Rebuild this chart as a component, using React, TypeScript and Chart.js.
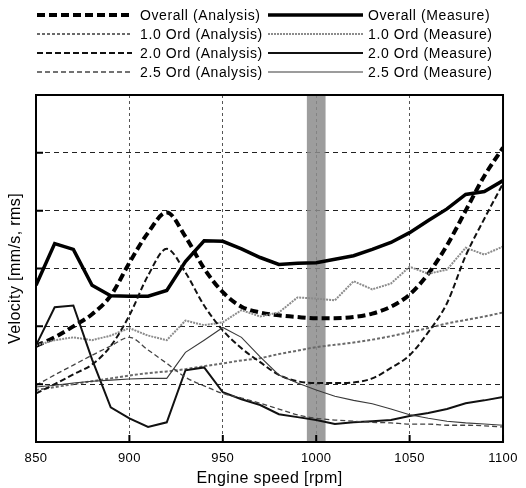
import React, { useEffect, useRef } from "react";
import { Chart, registerables } from "chart.js";

Chart.register(...registerables);

const rpm = [850, 860, 870, 880, 890, 900, 910, 920, 930, 940, 950, 960, 970, 980, 990, 1000, 1010, 1020, 1030, 1040, 1050, 1060, 1070, 1080, 1090, 1100];

const overallAnalysis = [1.66, 1.81, 2.0, 2.21, 2.53, 3.1, 3.62, 3.97, 3.55, 3.0, 2.59, 2.34, 2.24, 2.19, 2.16, 2.14, 2.14, 2.16, 2.22, 2.34, 2.55, 2.91, 3.4, 4.0, 4.6, 5.09];
const overallMeasure = [2.71, 3.43, 3.33, 2.71, 2.53, 2.52, 2.52, 2.62, 3.12, 3.48, 3.47, 3.34, 3.19, 3.07, 3.09, 3.1, 3.16, 3.22, 3.33, 3.45, 3.62, 3.83, 4.03, 4.28, 4.33, 4.52];
const ord10Analysis = [0.9, 0.95, 1.0, 1.05, 1.1, 1.15, 1.19, 1.22, 1.26, 1.31, 1.36, 1.41, 1.45, 1.52, 1.58, 1.64, 1.68, 1.72, 1.77, 1.83, 1.9, 1.97, 2.05, 2.11, 2.17, 2.24];
const ord10Measure = [1.67, 1.76, 1.81, 1.76, 1.84, 1.97, 1.84, 1.76, 2.1, 2.02, 2.07, 2.28, 2.17, 2.24, 2.5, 2.48, 2.45, 2.78, 2.64, 2.74, 3.03, 2.91, 2.98, 3.36, 3.24, 3.38];
const ord20Analysis = [0.84, 1.0, 1.17, 1.34, 1.66, 2.19, 2.88, 3.34, 2.93, 2.36, 1.93, 1.62, 1.38, 1.16, 1.05, 1.02, 1.02, 1.03, 1.1, 1.28, 1.5, 1.9, 2.4, 3.22, 3.86, 4.47];
const ord20Measure = [1.67, 2.33, 2.36, 1.43, 0.6, 0.41, 0.26, 0.34, 1.24, 1.29, 0.86, 0.74, 0.64, 0.48, 0.43, 0.38, 0.31, 0.34, 0.36, 0.38, 0.45, 0.5, 0.57, 0.67, 0.72, 0.78];
const ord25Analysis = [0.98, 1.16, 1.33, 1.5, 1.66, 1.81, 1.59, 1.36, 1.12, 0.97, 0.84, 0.76, 0.67, 0.57, 0.47, 0.41, 0.38, 0.36, 0.34, 0.33, 0.31, 0.31, 0.29, 0.29, 0.28, 0.26];
const ord25Measure = [0.95, 0.98, 1.02, 1.05, 1.07, 1.09, 1.1, 1.1, 1.55, 1.76, 1.98, 1.81, 1.47, 1.16, 1.02, 0.9, 0.79, 0.72, 0.66, 0.57, 0.47, 0.41, 0.36, 0.33, 0.31, 0.29];

const seriesNames = [
  "Overall (Analysis)", "Overall (Measure)",
  "1.0 Ord (Analysis)", "1.0 Ord (Measure)",
  "2.0 Ord (Analysis)", "2.0 Ord (Measure)",
  "2.5 Ord (Analysis)", "2.5 Ord (Measure)",
];

const bandRange = [995, 1005];
const xTicks = [850, 900, 950, 1000, 1050, 1100];
const yMin = 0;
const yMax = 6;

const FONT = "Arial, 'Liberation Sans', Helvetica, sans-serif";

const styles = [
  { color: "#000", width: 4, dash: [8, 4], smooth: true },
  { color: "#000", width: 3.5, dash: [], smooth: false },
  { color: "#6a6a6a", width: 2, dash: [3, 2], smooth: true },
  { color: "#8c8c8c", width: 2, dash: [2, 1], smooth: false },
  { color: "#111", width: 2, dash: [6, 3], smooth: true },
  { color: "#111", width: 2, dash: [], smooth: false },
  { color: "#444", width: 1.3, dash: [5, 3], smooth: true },
  { color: "#3a3a3a", width: 1.1, dash: [], smooth: false },
];

const allValues = [overallAnalysis, overallMeasure, ord10Analysis, ord10Measure, ord20Analysis, ord20Measure, ord25Analysis, ord25Measure];

const spacingPlugin = {
  id: "spacing",
  beforeDraw(chart: any) {
    try {
      (chart.ctx as any).letterSpacing = "0.4px";
    } catch (e) {}
  },
};

const bandPlugin = {
  id: "band",
  beforeDatasetsDraw(chart: any) {
    const { ctx, chartArea, scales } = chart;
    const x0 = scales.x.getPixelForValue(bandRange[0]);
    const x1 = scales.x.getPixelForValue(bandRange[1]);
    ctx.save();
    ctx.fillStyle = "rgba(140,140,140,0.85)";
    ctx.fillRect(x0, chartArea.top, x1 - x0, chartArea.bottom - chartArea.top);
    ctx.restore();
  },
};

const framePlugin = {
  id: "frame",
  afterDatasetsDraw(chart: any) {
    const { ctx, chartArea, scales } = chart;
    ctx.save();
    ctx.strokeStyle = "#000";
    ctx.lineWidth = 2;
    ctx.setLineDash([]);
    ctx.strokeRect(chartArea.left, chartArea.top, chartArea.right - chartArea.left, chartArea.bottom - chartArea.top);
    ctx.beginPath();
    xTicks.forEach((t) => {
      const x = scales.x.getPixelForValue(t);
      ctx.moveTo(x, chartArea.bottom);
      ctx.lineTo(x, chartArea.bottom - 7);
    });
    for (let v = yMin + 1; v < yMax; v++) {
      const y = scales.y.getPixelForValue(v);
      ctx.moveTo(chartArea.left, y);
      ctx.lineTo(chartArea.left + 7, y);
    }
    ctx.stroke();
    ctx.restore();
  },
};

const legendPlugin = {
  id: "customLegend",
  afterDraw(chart: any) {
    const { ctx } = chart;
    const rowsY = [15, 34, 53, 72];
    const cols = [
      { lx0: 37, lx1: 132, tx: 140 },
      { lx0: 268, lx1: 363, tx: 368 },
    ];
    ctx.save();
    chart.data.datasets.forEach((ds: any, i: number) => {
      const row = Math.floor(i / 2);
      const col = cols[i % 2];
      const y = rowsY[row];
      ctx.beginPath();
      ctx.strokeStyle = ds.borderColor;
      ctx.lineWidth = ds.borderWidth;
      ctx.setLineDash(ds.borderDash || []);
      ctx.moveTo(col.lx0, y);
      ctx.lineTo(col.lx1, y);
      ctx.stroke();
      ctx.setLineDash([]);
      ctx.fillStyle = "#000";
      ctx.font = `14px ${FONT}`;
      try {
        (ctx as any).letterSpacing = "0.6px";
      } catch (e) {}
      ctx.textAlign = "left";
      ctx.textBaseline = "middle";
      ctx.fillText(ds.label, col.tx, y + 1);
    });
    ctx.restore();
  },
};

export default function App() {
  const canvasRef = useRef<HTMLCanvasElement | null>(null);

  useEffect(() => {
    if (!canvasRef.current) return;
    const datasets = allValues.map((vals, i) => ({
      label: seriesNames[i],
      data: rpm.map((r, j) => ({ x: r, y: vals[j] })),
      borderColor: styles[i].color,
      backgroundColor: styles[i].color,
      borderWidth: styles[i].width,
      borderDash: styles[i].dash,
      pointRadius: 0,
      fill: false,
      cubicInterpolationMode: styles[i].smooth ? "monotone" : "default",
      tension: 0,
      order: 8 - i,
    }));
    const chart = new Chart(canvasRef.current, {
      type: "line",
      data: { datasets } as any,
      options: {
        animation: false,
        responsive: false,
        devicePixelRatio: 1,
        layout: { padding: { top: 95, right: 17, left: 0, bottom: 0 } },
        plugins: { legend: { display: false }, tooltip: { enabled: false }, title: { display: false } },
        scales: {
          x: {
            type: "linear",
            min: 850,
            max: 1100,
            afterFit(scale: any) {
              scale.height = 46;
            },
            afterBuildTicks(scale: any) {
              scale.ticks = xTicks.map((v) => ({ value: v }));
            },
            ticks: {
              color: "#000",
              font: { family: FONT, size: 13 },
              padding: 9,
              maxRotation: 0,
              callback: (v: any) => String(v),
            },
            grid: { color: "#555", lineWidth: 1, drawTicks: false },
            border: { display: false, dash: [3, 3] },
            title: {
              display: true,
              text: "Engine speed [rpm]",
              color: "#000",
              font: { family: FONT, size: 16 },
              padding: { top: 0, bottom: 0 },
            },
          },
          y: {
            min: yMin,
            max: yMax,
            afterFit(scale: any) {
              scale.width = 36;
            },
            ticks: { display: false, stepSize: 1 },
            grid: { color: "#222", lineWidth: 1, drawTicks: false },
            border: { display: false, dash: [5, 4] },
            title: {
              display: true,
              text: "Velocity [mm/s, rms]",
              color: "#000",
              font: { family: FONT, size: 16 },
              padding: { top: 6, bottom: 0 },
            },
          },
        },
      } as any,
      plugins: [spacingPlugin, bandPlugin, framePlugin, legendPlugin],
    });
    return () => chart.destroy();
  }, []);

  return (
    <div style={{ position: "absolute", left: 0, top: 0, width: 526, height: 488, background: "#fff" }}>
      <canvas ref={canvasRef} width={526} height={488} style={{ display: "block" }} />
    </div>
  );
}
